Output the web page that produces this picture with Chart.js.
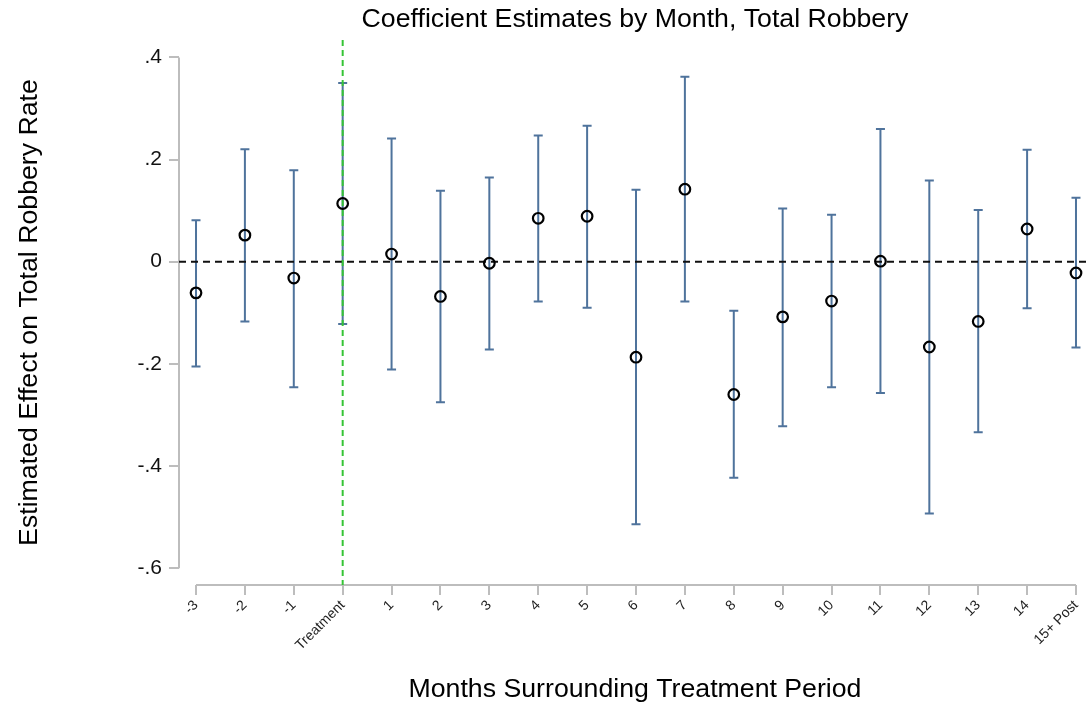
<!DOCTYPE html>
<html>
<head>
<meta charset="utf-8">
<title>Coefficient Estimates by Month, Total Robbery</title>
<script src="https://cdn.jsdelivr.net/npm/chart.js@4/dist/chart.umd.min.js"></script>
<style>
  html, body { margin: 0; padding: 0; background: #ffffff; }
  canvas { display: block; }
</style>
</head>
<body>
<canvas id="chart" width="1091" height="709"></canvas>
<script>
// Event-study months relative to treatment
const months = ['-3', '-2', '-1', 'Treatment', '1', '2', '3', '4', '5', '6', '7',
                '8', '9', '10', '11', '12', '13', '14', '15+ Post'];

// Point estimates and 95% confidence bounds
const coef  = [-0.061, 0.052, -0.032, 0.114, 0.015, -0.068, -0.003, 0.085, 0.089, -0.187,
               0.142, -0.260, -0.108, -0.077, 0.001, -0.167, -0.117, 0.064, -0.022];
const upper = [0.081, 0.220, 0.179, 0.350, 0.241, 0.139, 0.165, 0.247, 0.266, 0.141,
               0.362, -0.096, 0.104, 0.092, 0.260, 0.159, 0.101, 0.219, 0.125];
const lower = [-0.205, -0.117, -0.246, -0.122, -0.211, -0.275, -0.172, -0.078, -0.090, -0.514,
               -0.078, -0.423, -0.322, -0.246, -0.257, -0.493, -0.334, -0.091, -0.168];

// Y axis ticks
const yTickValues = [-0.6, -0.4, -0.2, 0, 0.2, 0.4];
const yTickLabels = ['-.6', '-.4', '-.2', '0', '.2', '.4'];

const treatmentIndex = months.indexOf('Treatment');

const FONT = "'Liberation Sans', Arial, Helvetica, sans-serif";
const AXIS_GREY = '#bdbdbd';
const BAR_BLUE = '#4f739c';
const TITLE_SIZE = 26.7;

// Confidence intervals, reference lines and the trimmed axis lines
const decorations = {
  id: 'decorations',
  beforeDatasetsDraw(chart) {
    const { ctx, chartArea, scales: { x, y } } = chart;
    ctx.save();

    // axis lines spanning the tick range only
    ctx.strokeStyle = AXIS_GREY;
    ctx.lineWidth = 2;
    ctx.setLineDash([]);
    ctx.beginPath();
    ctx.moveTo(chartArea.left, y.getPixelForValue(yTickValues[yTickValues.length - 1]));
    ctx.lineTo(chartArea.left, y.getPixelForValue(yTickValues[0]));
    ctx.moveTo(x.getPixelForValue(0), chartArea.bottom);
    ctx.lineTo(x.getPixelForValue(months.length - 1), chartArea.bottom);
    ctx.stroke();

    // error bars with caps
    ctx.strokeStyle = BAR_BLUE;
    ctx.lineWidth = 2;
    const cap = 4.5;
    months.forEach((m, i) => {
      const px = x.getPixelForValue(i);
      const yHi = y.getPixelForValue(upper[i]);
      const yLo = y.getPixelForValue(lower[i]);
      ctx.beginPath();
      ctx.moveTo(px, yHi);
      ctx.lineTo(px, yLo);
      ctx.moveTo(px - cap, yHi);
      ctx.lineTo(px + cap, yHi);
      ctx.moveTo(px - cap, yLo);
      ctx.lineTo(px + cap, yLo);
      ctx.stroke();
    });

    // zero reference line
    ctx.strokeStyle = '#111111';
    ctx.lineWidth = 2;
    ctx.setLineDash([7, 5]);
    ctx.beginPath();
    const y0 = y.getPixelForValue(0);
    ctx.moveTo(chartArea.left, y0);
    ctx.lineTo(chartArea.right, y0);
    ctx.stroke();

    // treatment month marker
    ctx.strokeStyle = '#35c435';
    ctx.lineWidth = 2;
    ctx.setLineDash([6, 4]);
    ctx.beginPath();
    const xt = x.getPixelForValue(treatmentIndex);
    ctx.moveTo(xt, chartArea.top);
    ctx.lineTo(xt, chartArea.bottom);
    ctx.stroke();

    ctx.restore();
  }
};

new Chart(document.getElementById('chart'), {
  type: 'scatter',
  data: {
    datasets: [{
      label: 'Coefficient',
      data: coef.map((v, i) => ({ x: i, y: v })),
      pointRadius: 5.3,
      pointBorderWidth: 2.2,
      pointBorderColor: '#000000',
      pointBackgroundColor: 'rgba(0,0,0,0)',
      pointHoverRadius: 5.3,
      showLine: false
    }]
  },
  options: {
    responsive: false,
    animation: false,
    layout: { padding: 0, autoPadding: false },
    plugins: {
      legend: { display: false },
      tooltip: { enabled: false },
      title: {
        display: true,
        fullSize: false,
        text: 'Coefficient Estimates by Month, Total Robbery',
        color: '#000000',
        font: { family: FONT, size: TITLE_SIZE, weight: 'normal' },
        padding: { top: 4, bottom: 4 }
      }
    },
    scales: {
      x: {
        type: 'linear',
        min: -0.348,
        max: 18.307,
        border: { display: false },
        grid: { drawOnChartArea: false, drawTicks: true, tickLength: 10, color: AXIS_GREY, lineWidth: 2 },
        afterBuildTicks: s => { s.ticks = months.map((m, i) => ({ value: i })); },
        afterFit: s => { s.height = 124; s.paddingLeft = 0; s.paddingRight = 0; },
        ticks: {
          autoSkip: false,
          minRotation: 45,
          maxRotation: 45,
          padding: 2,
          color: '#222222',
          font: { family: FONT, size: 14 },
          callback: v => months[v]
        },
        title: {
          display: true,
          text: 'Months Surrounding Treatment Period',
          color: '#000000',
          font: { family: FONT, size: TITLE_SIZE },
          padding: { top: 0, bottom: 3 }
        }
      },
      y: {
        min: -0.633,
        max: 0.434,
        border: { display: false },
        grid: { drawOnChartArea: false, drawTicks: true, tickLength: 10, color: AXIS_GREY, lineWidth: 2 },
        afterBuildTicks: s => { s.ticks = yTickValues.map(v => ({ value: v })); },
        afterFit: s => { s.width = 179; },
        ticks: {
          padding: 7,
          color: '#111111',
          font: { family: FONT, size: 21 },
          callback: v => {
            const k = yTickValues.findIndex(t => Math.abs(t - v) < 1e-9);
            return k >= 0 ? yTickLabels[k] : '';
          }
        },
        title: {
          display: true,
          text: 'Estimated Effect on Total Robbery Rate',
          color: '#000000',
          font: { family: FONT, size: TITLE_SIZE },
          padding: { top: 14, bottom: 0 }
        }
      }
    }
  },
  plugins: [decorations]
});
</script>
</body>
</html>
